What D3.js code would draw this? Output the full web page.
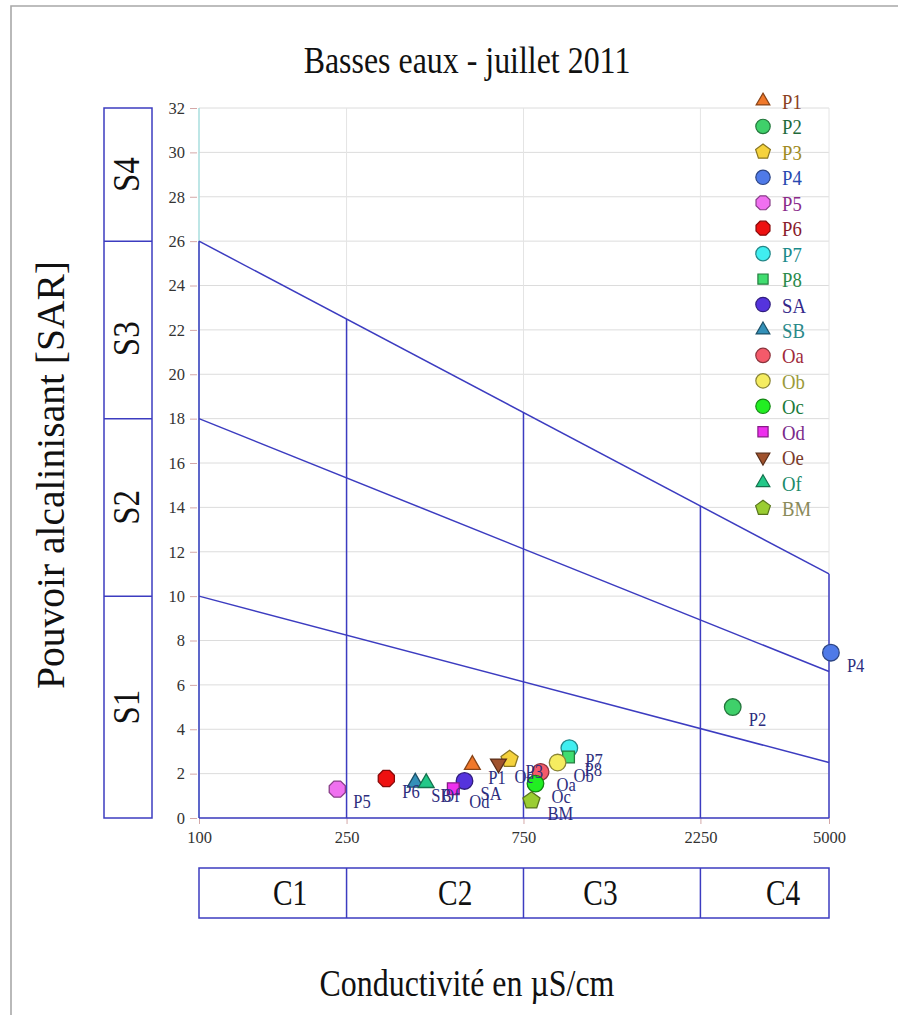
<!DOCTYPE html>
<html><head><meta charset="utf-8">
<script src="https://cdn.jsdelivr.net/npm/d3@7"></script>
<style>body{margin:0;background:#fff}svg{display:block}</style>
</head><body>
<svg id="chart" width="898" height="1015"></svg>
<script>
// ---- data ----
const names   = ["P1","P2","P3","P4","P5","P6","P7","P8","SA","SB","Oa","Ob","Oc","Od","Oe","Of","BM"];
const ecValues  = [546, 2750, 688, 5060, 236, 320, 997, 992, 520, 383, 834, 927, 808, 485, 642, 410, 788];
const sarValues = [2.4, 5.0, 2.65, 7.45, 1.3, 1.78, 3.15, 2.75, 1.67, 1.6, 2.08, 2.5, 1.55, 1.32, 2.45, 1.58, 0.78];
const shapes    = ["triUp","circle","pentagon","circle","octagon","octagon","circle","square","circle","triUp","circle","circle","circle","square","triDown","triUp","pentagon"];
const fills     = ["#f0782a","#3fd06a","#f5d23c","#4f7ae8","#f070f0","#ee1010","#40eef0","#40dd70","#5533dd","#3390b8","#f45a6a","#f5ec60","#22ee22","#ee30ee","#a0522d","#22c888","#9acd32"];
const textCols  = ["#8a4020","#1f6a3a","#a08a20","#2848b0","#8a2a8a","#8a1a2a","#1a8a8a","#2a8a4a","#34288a","#2a8a8a","#a02a3a","#9a9a3a","#1a7a3a","#7a2a8a","#7a3a2a","#1a8a6a","#8a8a5a"];
const xTicks = [100, 250, 750, 2250, 5000];
const yTicks = [0,2,4,6,8,10,12,14,16,18,20,22,24,26,28,30,32];
const classBounds = [250, 750, 2250];           // conductivity class limits
const cLabels = ["C1","C2","C3","C4"];
const cLabelPos = [176, 491, 1210, 3760];
const sBounds = [10, 18, 26];                   // S class limits at the y axis
const sLabels = ["S1","S2","S3","S4"];
const sLabelPos = [5, 14, 21.6, 29];
const boundaryStart = [10, 18, 26];             // SAR at EC=100
const boundaryEnd   = [2.5, 6.6, 11];           // SAR at EC=5000

// ---- layout ----
const svg = d3.select("#chart");
const L = 199, R = 829, T = 108, B = 818;
const x = d3.scaleLog().domain([100, 5000]).range([L, R]);
const y = d3.scaleLinear().domain([0, 32]).range([B, T]);
const BLUE = "#3c3cc0";
const SERIF = "'Liberation Serif','Times New Roman',serif";

// page frame
svg.append("path").attr("d", "M11,1015 L11,6 L898,6").attr("fill","none").attr("stroke","#a8a8a8").attr("stroke-width",1.6);

// title
svg.append("text").attr("transform", `translate(467,73) scale(0.84,1)`).attr("text-anchor","middle")
  .attr("font-family",SERIF).attr("font-size",38).attr("fill","#111").text("Basses eaux - juillet 2011");

// gridlines
const g = svg.append("g");
g.selectAll(".hg").data(yTicks).join("line")
  .attr("x1", L).attr("x2", R).attr("y1", d=>y(d)).attr("y2", d=>y(d))
  .attr("stroke", "#dcdcdc").attr("stroke-width", 1);
g.selectAll(".vg").data(classBounds.concat([5000])).join("line")
  .attr("x1", d=>x(d)).attr("x2", d=>x(d)).attr("y1", T).attr("y2", B)
  .attr("stroke", "#e4e4e4").attr("stroke-width", 1);
// left axis line (faint cyan)
g.append("line").attr("x1",L).attr("x2",L).attr("y1",T).attr("y2",B).attr("stroke","#a8dede").attr("stroke-width",1.5);

// y axis ticks/labels
const yAxis = d3.axisLeft(y).tickValues(yTicks).tickSize(7).tickPadding(5);
const ya = svg.append("g").attr("transform",`translate(${L-2},0)`).call(yAxis);
ya.select(".domain").remove();
ya.selectAll(".tick line").attr("stroke","#d4a8a8");
ya.selectAll(".tick text").attr("font-family",SERIF).attr("font-size",16.5).attr("fill","#333");

// x axis ticks/labels
const xAxis = d3.axisBottom(x).tickValues(xTicks).tickFormat(d3.format("d")).tickSize(6).tickPadding(7);
const xa = svg.append("g").attr("transform",`translate(0,${B})`).call(xAxis);
xa.select(".domain").remove();
xa.selectAll(".tick line").attr("stroke","#d4a8a8");
xa.selectAll(".tick text").attr("font-family",SERIF).attr("font-size",16.5).attr("fill","#333");

// diagram (blue lines)
const lg = svg.append("g").attr("stroke", BLUE).attr("stroke-width", 1.5).attr("fill","none");
const boundary = (i, ec) => {
  const t = (Math.log10(ec) - 2) / (Math.log10(5000) - 2);
  return boundaryStart[i] + (boundaryEnd[i] - boundaryStart[i]) * t;
};
boundaryStart.forEach((s, i) => {
  lg.append("line").attr("x1", x(100)).attr("y1", y(s)).attr("x2", x(5000)).attr("y2", y(boundaryEnd[i]));
});
lg.append("line").attr("x1", x(100)).attr("x2", x(5000)).attr("y1", y(0)).attr("y2", y(0));
lg.append("line").attr("x1", x(100)).attr("x2", x(100)).attr("y1", y(0)).attr("y2", y(boundaryStart[2]));
classBounds.concat([5000]).forEach(ec => {
  lg.append("line").attr("x1", x(ec)).attr("x2", x(ec)).attr("y1", y(0)).attr("y2", y(boundary(2, ec)));
});

// S boxes
const sg = svg.append("g");
sg.append("rect").attr("x",104).attr("y",y(32)).attr("width",48).attr("height",y(0)-y(32))
  .attr("fill","none").attr("stroke",BLUE).attr("stroke-width",1.5);
sBounds.forEach(v => sg.append("line").attr("x1",104).attr("x2",152).attr("y1",y(v)).attr("y2",y(v)).attr("stroke",BLUE).attr("stroke-width",1.5));
sLabels.forEach((t,i) => sg.append("text")
  .attr("transform",`translate(139,${y(sLabelPos[i])}) rotate(-90) scale(1,1.12)`)
  .attr("text-anchor","middle").attr("font-family",SERIF).attr("font-size",33).attr("fill","#111").text(t));

// C boxes
const cg = svg.append("g");
const cTop = 868, cBot = 918;
cg.append("rect").attr("x",x(100)).attr("y",cTop).attr("width",x(5000)-x(100)).attr("height",cBot-cTop)
  .attr("fill","none").attr("stroke",BLUE).attr("stroke-width",1.5);
classBounds.forEach(v => cg.append("line").attr("x1",x(v)).attr("x2",x(v)).attr("y1",cTop).attr("y2",cBot).attr("stroke",BLUE).attr("stroke-width",1.5));
cLabels.forEach((t,i) => cg.append("text")
  .attr("transform",`translate(${x(cLabelPos[i])},905) scale(0.84,1)`)
  .attr("text-anchor","middle").attr("font-family",SERIF).attr("font-size",35).attr("fill","#111").text(t));

// axis titles
svg.append("text").attr("transform","translate(467,996) scale(0.84,1)").attr("text-anchor","middle")
  .attr("font-family",SERIF).attr("font-size",38).attr("fill","#111").text("Conductivité en µS/cm");
svg.append("text").attr("transform","translate(64,475) rotate(-90)").attr("text-anchor","middle")
  .attr("font-family",SERIF).attr("font-size",39.5).attr("fill","#111").text("Pouvoir alcalinisant [SAR]");

// symbol paths
function poly(n, r, rot) {
  const pts = d3.range(n).map(k => {
    const a = rot + k * 2 * Math.PI / n;
    return [r * Math.cos(a), r * Math.sin(a)];
  });
  return "M" + pts.map(p => p.join(",")).join("L") + "Z";
}
function shapePath(s, r) {
  switch (s) {
    case "circle": return d3.symbol(d3.symbolCircle, Math.PI * r * r)();
    case "triUp": return poly(3, r * 1.1, -Math.PI / 2);
    case "triDown": return poly(3, r * 1.1, Math.PI / 2);
    case "square": return poly(4, r * 1.0, Math.PI / 4);
    case "pentagon": return poly(5, r * 1.08, -Math.PI / 2);
    case "octagon": return poly(8, r * 1.05, Math.PI / 8);
  }
}

const rows = names.map((n, i) => ({name: n, ec: ecValues[i], sar: sarValues[i], shape: shapes[i], fill: fills[i], tc: textCols[i]}));

// data points
const pg = svg.append("g");
pg.selectAll("path").data(rows).join("path")
  .attr("transform", d => `translate(${x(d.ec)},${y(d.sar)})`)
  .attr("d", d => shapePath(d.shape, 8.3))
  .attr("fill", d => d.fill)
  .attr("stroke", d => d3.color(d.fill).darker(1.6))
  .attr("stroke-width", 1.3);
pg.selectAll("text").data(rows).join("text")
  .attr("transform", d => `translate(${x(d.ec) + 16},${y(d.sar) + 19}) scale(0.92,1)`)
  .attr("font-family", SERIF).attr("font-size", 18).attr("fill", "#2d2d7d")
  .text(d => d.name);

// legend
const leg = svg.append("g");
const legY0 = 101, legStep = 25.44;
leg.selectAll("path").data(rows).join("path")
  .attr("transform", (d, i) => `translate(763,${legY0 + i * legStep})`)
  .attr("d", d => shapePath(d.shape, 7.2))
  .attr("fill", d => d.fill)
  .attr("stroke", d => d3.color(d.fill).darker(1.6))
  .attr("stroke-width", 1.2);
leg.selectAll("text").data(rows).join("text")
  .attr("transform", (d, i) => `translate(782,${legY0 + i * legStep + 8}) scale(0.85,1)`)
  .attr("font-family", SERIF).attr("font-size", 22).attr("fill", d => d.tc)
  .text(d => d.name);
</script>
</body></html>
